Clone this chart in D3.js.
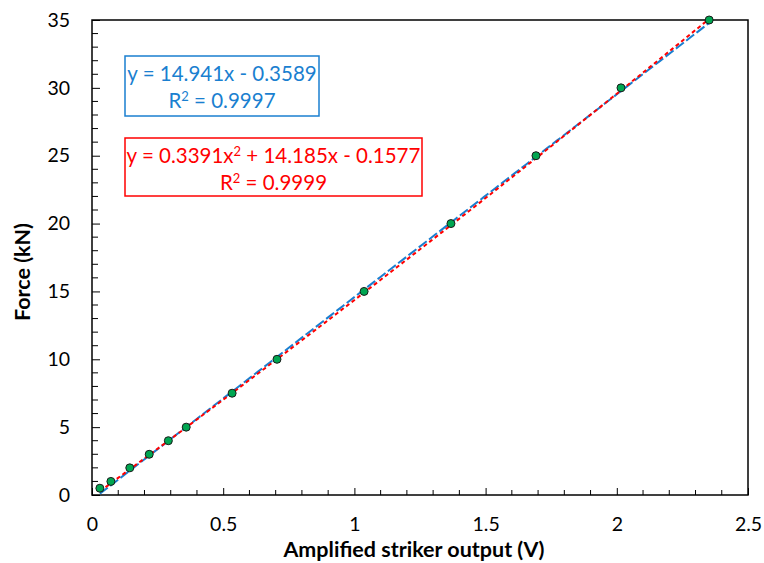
<!DOCTYPE html>
<html>
<head>
<meta charset="utf-8">
<script src="https://cdn.jsdelivr.net/npm/d3@7"></script>
<style>
  html, body { margin: 0; padding: 0; background: #fff; }
  svg { display: block; font-family: Lato, "Open Sans", sans-serif; }
</style>
</head>
<body>
<svg id="chart" width="764" height="563"></svg>
<script>
// Calibration points: amplified striker output (V) vs applied force (kN)
const voltage = [0.03, 0.072, 0.144, 0.218, 0.291, 0.359, 0.534, 0.705, 1.037, 1.368, 1.692, 2.016, 2.352];
const force   = [0.5, 1, 2, 3, 4, 5, 7.5, 10, 15, 20, 25, 30, 35];

// Trendline coefficients
const linearFit = { slope: 14.941, intercept: -0.3589, r2: "0.9997" };
const quadFit   = { a: 0.3391, b: 14.185, c: -0.1577, r2: "0.9999" };

const xTicks = [0, 0.5, 1, 1.5, 2, 2.5];
const yTicks = [0, 5, 10, 15, 20, 25, 30, 35];

const svg = d3.select("#chart");
const m = { left: 92, right: 748, top: 20, bottom: 495 };

const x = d3.scaleLinear().domain([0, 2.5]).range([m.left, m.right]);
const y = d3.scaleLinear().domain([0, 35]).range([m.bottom, m.top]);

// Minor ticks
const xMinor = d3.range(0, 2.5001, 0.1).filter(v => Math.abs(v * 2 - Math.round(v * 2)) > 1e-6);
const yMinor = d3.range(0, 35.001, 1).filter(v => v % 5 !== 0);

svg.append("g").selectAll("line").data(xMinor).join("line")
  .attr("x1", d => x(d)).attr("x2", d => x(d))
  .attr("y1", m.bottom).attr("y2", m.bottom - 5)
  .attr("stroke", "#000").attr("stroke-width", 1);
svg.append("g").selectAll("line").data(yMinor).join("line")
  .attr("y1", d => y(d)).attr("y2", d => y(d))
  .attr("x1", m.left).attr("x2", m.left + 6)
  .attr("stroke", "#000").attr("stroke-width", 1);

// Major axes (ticks point inward)
const xAxis = d3.axisBottom(x).tickValues(xTicks).tickSizeInner(-7).tickSizeOuter(0).tickPadding(22)
  .tickFormat(d => d3.format("")(d));
const gx = svg.append("g").attr("transform", `translate(0,${m.bottom})`).call(xAxis);
gx.select(".domain").remove();
gx.selectAll("line").attr("stroke", "#000");
gx.selectAll("text").attr("font-size", 19.5).attr("fill", "#000").attr("dy", "0.71em")
  .attr("font-family", "Lato, sans-serif");

const yAxis = d3.axisLeft(y).tickValues(yTicks).tickSizeInner(-8).tickSizeOuter(0).tickPadding(22);
const gy = svg.append("g").attr("transform", `translate(${m.left},0)`).call(yAxis);
gy.select(".domain").remove();
gy.selectAll("line").attr("stroke", "#000");
gy.selectAll("text").attr("font-size", 19.5).attr("fill", "#000")
  .attr("font-family", "Lato, sans-serif");

// Plot frame
svg.append("rect")
  .attr("x", m.left).attr("y", m.top)
  .attr("width", m.right - m.left).attr("height", m.bottom - m.top)
  .attr("fill", "none").attr("stroke", "#000").attr("stroke-width", 1.5);

// Trendlines over the data range
const x0 = d3.min(voltage), x1 = d3.max(voltage);
const xs = d3.range(0, 101).map(i => x0 + (x1 - x0) * i / 100);
const line = d3.line().x(d => x(d[0])).y(d => y(d[1]));

svg.append("path")
  .datum(xs.map(v => [v, linearFit.slope * v + linearFit.intercept]))
  .attr("d", line).attr("fill", "none")
  .attr("stroke", "#1a7fd0").attr("stroke-width", 2).attr("stroke-dasharray", "10,3");

svg.append("path")
  .datum(xs.map(v => [v, quadFit.a * v * v + quadFit.b * v + quadFit.c]))
  .attr("d", line).attr("fill", "none")
  .attr("stroke", "#ff0000").attr("stroke-width", 2).attr("stroke-dasharray", "4,3");

// Data points
svg.append("g").selectAll("circle").data(voltage.map((v, i) => [v, force[i]])).join("circle")
  .attr("cx", d => x(d[0])).attr("cy", d => y(d[1])).attr("r", 4)
  .attr("fill", "#00a651").attr("stroke", "#1a1a1a").attr("stroke-width", 1);

// Equation boxes
function eqBox(bx, by, bw, bh, color, lines) {
  const g = svg.append("g");
  g.append("rect").attr("x", bx).attr("y", by).attr("width", bw).attr("height", bh)
    .attr("fill", "#fff").attr("stroke", color).attr("stroke-width", 1.5);
  lines.forEach((ln, i) => {
    const t = g.append("text").attr("x", bx + bw / 2).attr("y", by + 25 + i * 27)
      .attr("text-anchor", "middle").attr("fill", color).attr("font-size", 20.5);
    ln.forEach(part => {
      const s = t.append("tspan").text(part.t);
      if (part.sup) s.attr("font-size", 13).attr("dy", -7);
      if (part.after) s.attr("dy", 7);
    });
  });
}

eqBox(125, 56, 194, 60, "#1a7fd0", [
  [{ t: `y = ${linearFit.slope}x - ${Math.abs(linearFit.intercept)}` }],
  [{ t: "R" }, { t: "2", sup: true }, { t: ` = ${linearFit.r2}`, after: true }]
]);

eqBox(125, 138, 297, 58, "#ff0000", [
  [{ t: `y = ${quadFit.a}x` }, { t: "2", sup: true }, { t: ` + ${quadFit.b}x - ${Math.abs(quadFit.c)}`, after: true }],
  [{ t: "R" }, { t: "2", sup: true }, { t: ` = ${quadFit.r2}`, after: true }]
]);

// Axis titles
svg.append("text").attr("x", 414).attr("y", 557)
  .attr("text-anchor", "middle").attr("font-weight", "bold").attr("font-size", 21.5)
  .text("Amplified striker output (V)");

svg.append("text").attr("transform", "translate(30,272) rotate(-90)")
  .attr("text-anchor", "middle").attr("font-weight", "bold").attr("font-size", 21.5)
  .text("Force (kN)");
</script>
</body>
</html>
